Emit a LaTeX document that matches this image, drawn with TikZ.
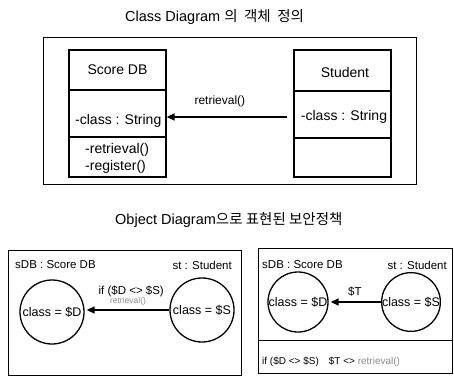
\documentclass[tikz,border=0pt]{standalone}
\usepackage{fontspec}
\setmainfont{Liberation Sans}
\newfontfamily\kr{Noto Sans CJK KR}
\usetikzlibrary{arrows.meta}
\begin{document}
\begin{tikzpicture}[x=1pt,y=-1pt,
  frame/.style={draw, line width=0.9pt},
  comp/.style={draw, line width=1.3pt, minimum width=97pt, inner sep=0pt},
  txt/.style={inner sep=0pt, font=\fontsize{14}{16}\selectfont},
  ttl/.style={inner sep=0pt, font=\fontsize{14.5}{16}\selectfont},
  obj/.style={draw, circle, line width=1.3pt, inner sep=0pt, font=\fontsize{12.5}{14}\selectfont},
  lbl/.style={inner sep=0pt, font=\fontsize{11.5}{13}\selectfont},
  faint/.style={inner sep=0pt, text=black!45, font=\fontsize{8.5}{10}\selectfont},
  arr/.style={line width=1.6pt, -{Triangle[length=8pt,width=7pt]}}
]
\useasboundingbox (0,0) rectangle (454,385);

% ---------- titles ----------
\node[ttl, anchor=west] (t1) at (125,17) {Class Diagram {\kr 의\ \ 객체\ \ 정의}};
\node[ttl, anchor=west] (t2) at (115,220) {Object Diagram{\kr 으로\ 표현된\ 보안정책}};

% ---------- class diagram ----------
\node[frame, minimum width=373pt, minimum height=147pt, inner sep=0pt] (outer) at (229.5,110.5) {};

\node[comp, minimum height=40pt] (sdb1) at (117.5,70) {};
\node[comp, minimum height=47pt] (sdb2) at (117.5,113.5) {};
\node[comp, minimum height=40pt] (sdb3) at (117.5,157) {};
\node[txt] (sdbn) at (sdb1.center) {Score DB};
\node[txt, anchor=west] (sdba) at (75,121) {-class : String};
\node[txt, anchor=west] (sdbm1) at (85,150) {-retrieval()};
\node[txt, anchor=west] (sdbm2) at (85,167) {-register()};

\node[comp, minimum height=41pt] (stu1) at (342.5,70.5) {};
\node[comp, minimum height=47pt] (stu2) at (342.5,114.5) {};
\node[comp, minimum height=39pt] (stu3) at (342.5,157.5) {};
\node[txt] (stun) at (345,72) {Student};
\node[txt] (stua) at (344,117) {-class : String};

\draw[arr, shorten <=6pt] ([yshift=-2.5pt]stu2.west) -- ([yshift=-3.5pt]sdb2.east)
  node[pos=0.58, above=9pt, lbl, font=\fontsize{12}{14}\selectfont] (rl) {retrieval()};

% ---------- object diagram (left) ----------
\node[frame, minimum width=233pt, minimum height=125pt, inner sep=0pt] (boxL) at (124.5,312.5) {};
\node[lbl, anchor=west] (l1) at (15,265) {sDB : Score DB};
\node[lbl, anchor=east] (l2) at (232,265) {st : Student};
\node[obj, minimum size=64pt] (cd1) at (52,312) {class = \$D};
\node[obj, minimum size=64pt] (cs1) at (202,310) {class = \$S};
\draw[arr, shorten >=2pt] (cs1.west) -- (cd1.east |- cs1.west)
  node[pos=0.45, above=12pt, lbl] (c1) {if (\$D <> \$S)};
\node[faint] (r1) at (128,301) {retrieval()};

% ---------- object diagram (right) ----------
\node[frame, minimum width=194pt, minimum height=125pt, inner sep=0pt] (boxR) at (355,310.5) {};
\draw[frame] (boxR.west |- 0,340) -- (boxR.east |- 0,340);
\node[lbl, anchor=west] (l3) at (262,265) {sDB : Score DB};
\node[lbl, anchor=east] (l4) at (447,265) {st : Student};
\node[obj, minimum size=60pt] (cd2) at (298,302) {class = \$D};
\node[obj, minimum size=58pt] (cs2) at (411,302) {class = \$S};
\draw[arr, shorten >=2pt] (cs2.west) -- (cd2.east |- cs2.west)
  node[pos=0.5, above=5pt, lbl] (tt) {\$T};
\node[lbl, anchor=west, font=\fontsize{10}{12}\selectfont] (cond) at (262,362) {if (\$D <> \$S)\quad \$T <> {\color{black!45}retrieval()}};
\end{tikzpicture}
\end{document}
